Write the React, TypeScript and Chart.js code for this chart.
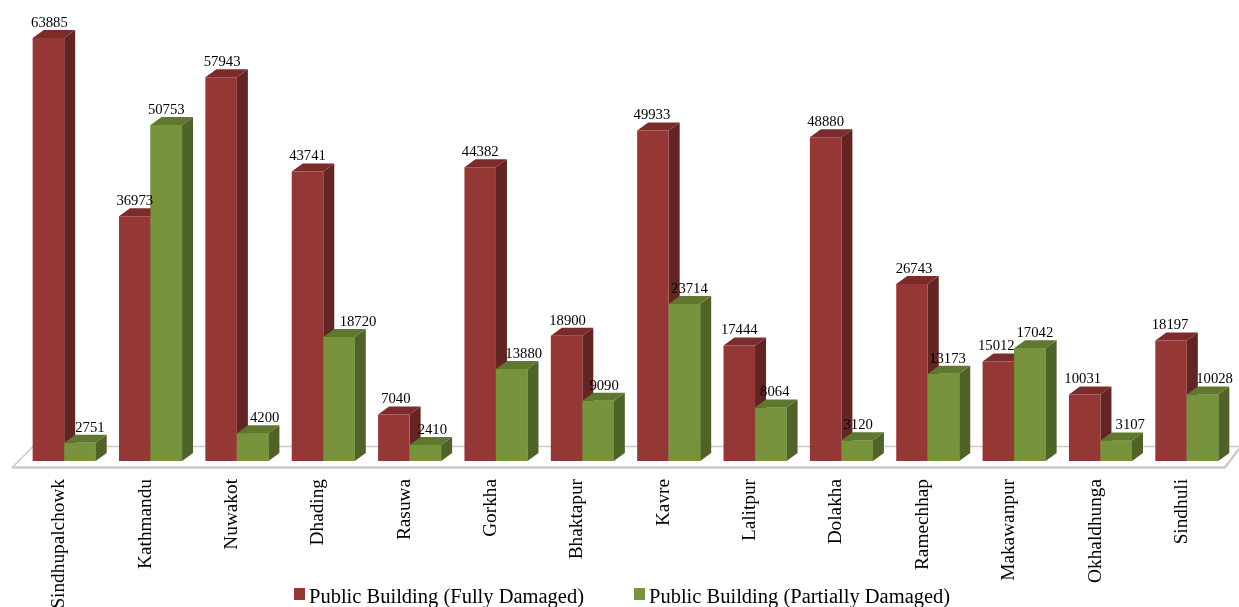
import { useEffect, useRef } from "react";
import { Chart, registerables } from "chart.js";

Chart.register(...registerables);

const districts = [
  "Sindhupalchowk", "Kathmandu", "Nuwakot", "Dhading", "Rasuwa", "Gorkha", "Bhaktapur",
  "Kavre", "Lalitpur", "Dolakha", "Ramechhap", "Makawanpur", "Okhaldhunga", "Sindhuli",
];
const fullyDamaged = [63885, 36973, 57943, 43741, 7040, 44382, 18900, 49933, 17444, 48880, 26743, 15012, 10031, 18197];
const partiallyDamaged = [2751, 50753, 4200, 18720, 2410, 13880, 9090, 23714, 8064, 3120, 13173, 17042, 3107, 10028];

// Horizontal nudges that keep value labels clear of neighbouring bars.
const fullyLabelShift = [1, 0, 1, 0, 2, 0, 1, -1, 0, 0, 2, -2, -2, -1];
const partiallyLabelShift = [10, 0, 12, 19, 7, 12, 6, 5, 4, 1, 4, 5, 14, 12];

const SERIF = '"Liberation Serif", "Times New Roman", serif';
const DEPTH_X = 11;
const DEPTH_Y = 8;
const LEGEND_SWATCH_X = [294, 634];

const seriesStyle = [
  { front: "#953735", side: "#632523", top: "#7b2c2a", shift: fullyLabelShift },
  { front: "#77933c", side: "#4f6228", top: "#60772f", shift: partiallyLabelShift },
];

function drawDepthFaces(ctx: CanvasRenderingContext2D, meta: any, index: number) {
  const style = seriesStyle[index];
  ctx.save();
  for (const bar of meta.data) {
    const { x, y, base, width } = bar.getProps(["x", "y", "base", "width"], true);
    const right = x + width / 2;
    const left = x - width / 2;
    ctx.fillStyle = style.side;
    ctx.beginPath();
    ctx.moveTo(right, y);
    ctx.lineTo(right + DEPTH_X, y - DEPTH_Y);
    ctx.lineTo(right + DEPTH_X, base - DEPTH_Y);
    ctx.lineTo(right, base);
    ctx.closePath();
    ctx.fill();
    ctx.fillStyle = style.top;
    ctx.beginPath();
    ctx.moveTo(left, y);
    ctx.lineTo(left + DEPTH_X, y - DEPTH_Y);
    ctx.lineTo(right + DEPTH_X, y - DEPTH_Y);
    ctx.lineTo(right, y);
    ctx.closePath();
    ctx.fill();
  }
  ctx.restore();
}

const extrusion = {
  id: "extrusion",
  // Floor plane sits beneath all the columns.
  beforeDatasetsDraw(chart: any) {
    const { ctx, chartArea } = chart;
    const base = chartArea.bottom;
    ctx.save();
    ctx.strokeStyle = "#cbcbcb";
    ctx.lineWidth = 1.5;
    ctx.beginPath();
    ctx.moveTo(chartArea.left - 9, base + 6.5);
    ctx.lineTo(chartArea.left + 12, base - 14.5);
    ctx.lineTo(chart.width, base - 14.5);
    ctx.stroke();
    ctx.lineWidth = 2.5;
    ctx.beginPath();
    ctx.moveTo(chartArea.left - 9, base + 6.5);
    ctx.lineTo(chartArea.right - 5, base + 6.5);
    ctx.lineTo(chart.width, base - 12);
    ctx.stroke();
    ctx.restore();
  },
  // The first series' faces go down before its fronts.
  beforeDatasetDraw(chart: any, args: any) {
    if (args.index === 0) drawDepthFaces(chart.ctx, args.meta, 0);
  },
  // The library paints the first series last, so the second is put back on top of it.
  afterDatasetDraw(chart: any, args: any) {
    if (args.index !== 0) return;
    const meta = chart.getDatasetMeta(1);
    drawDepthFaces(chart.ctx, meta, 1);
    meta.data.forEach((bar: any) => bar.draw(chart.ctx));
  },
  // Value labels float above the extruded tops; the key runs along the bottom edge.
  afterDatasetsDraw(chart: any) {
    const { ctx } = chart;
    ctx.save();
    ctx.font = `14.7px ${SERIF}`;
    ctx.fillStyle = "#000";
    ctx.textAlign = "center";
    ctx.textBaseline = "middle";
    chart.data.datasets.forEach((dataset: any, d: number) => {
      chart.getDatasetMeta(d).data.forEach((bar: any, i: number) => {
        ctx.fillText(String(dataset.data[i]), bar.x + seriesStyle[d].shift[i], bar.y - 15);
      });
    });
    ctx.font = `20.5px ${SERIF}`;
    ctx.textAlign = "left";
    ctx.textBaseline = "alphabetic";
    chart.data.datasets.forEach((dataset: any, d: number) => {
      const x = LEGEND_SWATCH_X[d];
      ctx.fillStyle = seriesStyle[d].front;
      ctx.fillRect(x, 588, 11, 12);
      ctx.fillStyle = "#000";
      ctx.fillText(dataset.label, x + 15, 603);
    });
    ctx.restore();
  },
};

export default function App() {
  const canvasRef = useRef<HTMLCanvasElement>(null);

  useEffect(() => {
    const chart = new Chart(canvasRef.current!, {
      type: "bar",
      data: {
        labels: districts,
        datasets: [
          {
            label: "Public Building (Fully Damaged)",
            data: fullyDamaged,
            backgroundColor: seriesStyle[0].front,
          },
          {
            label: "Public Building (Partially Damaged)",
            data: partiallyDamaged,
            backgroundColor: seriesStyle[1].front,
          },
        ],
      },
      options: {
        animation: false,
        responsive: false,
        layout: { padding: { left: 21, right: 9, top: 24, bottom: 0 } },
        datasets: { bar: { categoryPercentage: 0.73, barPercentage: 1 } },
        plugins: {
          tooltip: { enabled: false },
          legend: { display: false },
        },
        scales: {
          x: {
            grid: { display: false },
            border: { display: false },
            afterFit(scale: any) {
              scale.height = 146;
            },
            ticks: {
              autoSkip: false,
              minRotation: 90,
              maxRotation: 90,
              labelOffset: -5,
              padding: 10,
              color: "#000",
              font: { family: SERIF, size: 19.3 },
            },
          },
          y: { display: false, min: 0, max: 66000 },
        },
      },
      plugins: [extrusion],
    });
    return () => chart.destroy();
  }, []);

  return (
    <canvas
      ref={canvasRef}
      width={1239}
      height={607}
      style={{ position: "absolute", left: 0, top: 0 }}
    />
  );
}
